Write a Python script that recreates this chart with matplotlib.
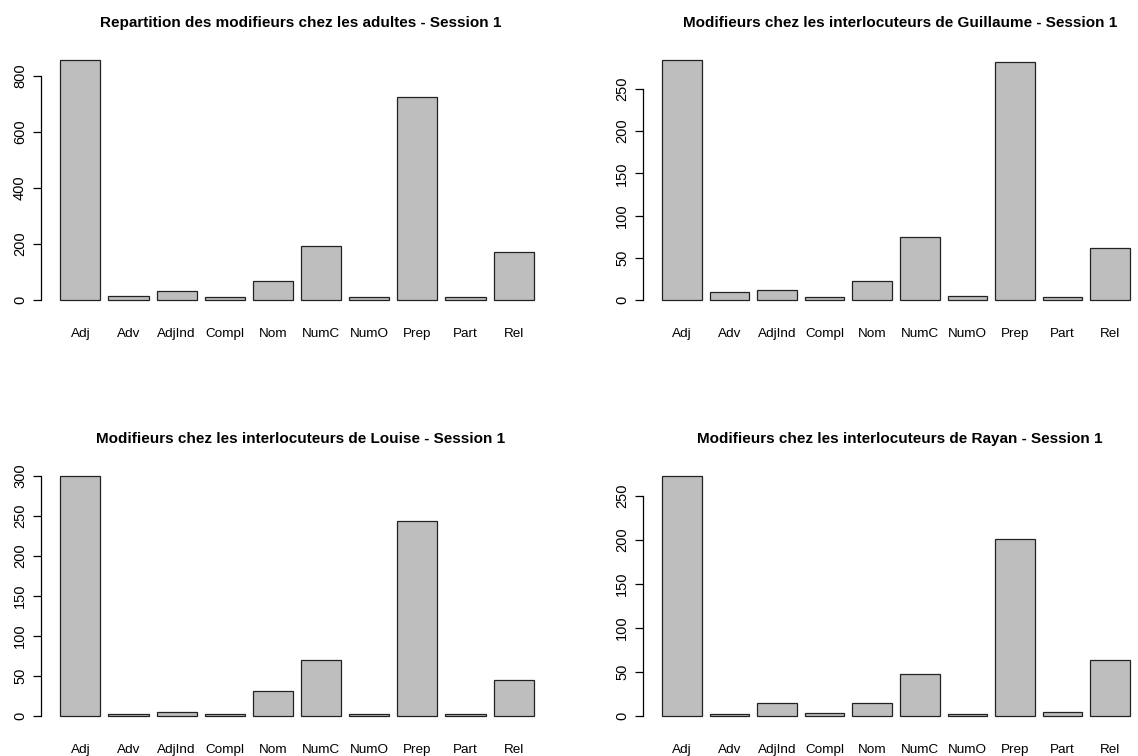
import matplotlib
matplotlib.use("Agg")
import matplotlib.pyplot as plt

plt.rcParams['font.family'] = ['Liberation Sans', 'DejaVu Sans']

categories = ["Adj", "Adv", "AdjInd", "Compl", "Nom", "NumC", "NumO", "Prep", "Part", "Rel"]

adultes = [857, 13, 32, 9, 68, 193, 10, 727, 11, 170]
guillaume = [284, 9, 12, 4, 22, 75, 5, 282, 4, 61]
louise = [300, 2, 5, 2, 31, 70, 3, 244, 2, 45]
rayan = [272, 2, 15, 3, 15, 48, 2, 201, 5, 64]

titles = ["Repartition des modifieurs chez les adultes - Session 1",
          "Modifieurs chez les interlocuteurs de Guillaume - Session 1",
          "Modifieurs chez les interlocuteurs de Louise - Session 1",
          "Modifieurs chez les interlocuteurs de Rayan - Session 1"]
yticks = [range(0, 801, 200), range(0, 251, 50), range(0, 301, 50), range(0, 251, 50)]
series = [adultes, guillaume, louise, rayan]

W, H = 1138, 756
fig = plt.figure(figsize=(W / 100, H / 100), dpi=100)

# panel boxes in pixels: left, top, width, height
boxes = [(41, 50.5, 520, 261.5), (643, 50.5, 514, 261.5),
         (41, 466.5, 520, 261.5), (643, 466.5, 514, 261.5)]

# R barplot geometry: width 1, space 0.2
pos = [0.7 + 1.2 * i for i in range(len(categories))]

for vals, title, yt, (l, t, w, h) in zip(series, titles, yticks, boxes):
    ax = fig.add_axes([l / W, (H - t - h) / H, w / W, h / H])
    ax.bar(pos, vals, width=1.0, color="#bebebe", edgecolor="#222222", linewidth=0.9)
    ax.set_xlim(-0.28, 12.68)
    top = max(vals)
    lo, hi = -0.01 * top, top
    ext = 0.04 * (hi - lo)
    ax.set_ylim(lo - ext, hi + ext)
    for s in ["top", "right", "bottom"]:
        ax.spines[s].set_visible(False)
    ax.spines["left"].set_bounds(yt[0], yt[-1])
    ax.spines["left"].set_linewidth(0.9)
    ax.set_yticks(list(yt))
    ax.set_yticklabels([str(v) for v in yt], rotation=90, va="center", fontsize=10.5)
    ax.tick_params(axis="y", length=6, width=0.9, pad=4)
    ax.set_xticks(pos)
    ax.set_xticklabels(categories, fontsize=9.7)
    ax.tick_params(axis="x", length=0, pad=11.5)
    ax.text(0.5, 1 + 27.5 / h, title, transform=ax.transAxes, ha="center", va="center",
            fontsize=11, fontweight="bold")

fig.savefig("out.png", dpi=100)
